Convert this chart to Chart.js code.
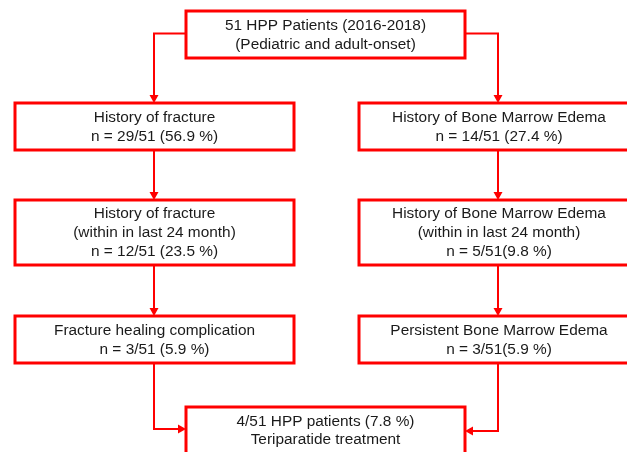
<!DOCTYPE html>
<html>
<head>
<meta charset="utf-8">
<script src="https://cdn.jsdelivr.net/npm/chart.js@4"></script>
<style>
  html, body { margin: 0; padding: 0; background: #fff; }
  #wrap { width: 627px; height: 452px; }
</style>
</head>
<body>
<div id="wrap"><canvas id="flow"></canvas></div>
<script>
// flowchart content
const total = 51;
const boxNames = ['top', 'frac', 'bme', 'frac24', 'bme24', 'fracComp', 'bmePers', 'teri'];
const boxCounts = [51, 29, 14, 12, 5, 3, 3, 4];
const boxLines = [
  ['51 HPP Patients (2016-2018)', '(Pediatric and adult-onset)'],
  ['History of fracture', 'n = 29/51 (56.9 %)'],
  ['History of Bone Marrow Edema', 'n = 14/51 (27.4 %)'],
  ['History of fracture', '(within in last 24 month)', 'n = 12/51 (23.5 %)'],
  ['History of Bone Marrow Edema', '(within in last 24 month)', 'n = 5/51(9.8 %)'],
  ['Fracture healing complication', 'n = 3/51 (5.9 %)'],
  ['Persistent Bone Marrow Edema', 'n = 3/51(5.9 %)'],
  ['4/51 HPP patients (7.8 %)', 'Teriparatide treatment']
];
// links: from -> to
const linkFrom = ['top', 'top', 'frac', 'bme', 'frac24', 'bme24', 'fracComp', 'bmePers'];
const linkTo   = ['frac', 'bme', 'frac24', 'bme24', 'fracComp', 'bmePers', 'teri', 'teri'];

// layout (scale units, y grows downward)
const layout = {
  top:      { x0: 186, x1: 465, y0: 11,  y1: 58 },
  frac:     { x0: 15,  x1: 294, y0: 103, y1: 150 },
  bme:      { x0: 359, x1: 639, y0: 103, y1: 150 },
  frac24:   { x0: 15,  x1: 294, y0: 200, y1: 265 },
  bme24:    { x0: 359, x1: 639, y0: 200, y1: 265 },
  fracComp: { x0: 15,  x1: 294, y0: 316, y1: 363 },
  bmePers:  { x0: 359, x1: 639, y0: 316, y1: 363 },
  teri:     { x0: 186, x1: 465, y0: 407, y1: 455 }
};
const colX = { left: 154, right: 498 };
const RED = '#ff0000';

function boxSide(name) {
  return layout[name].x0 < 300 ? 'left' : 'right';
}

const flowPlugin = {
  id: 'flow',
  afterDatasetsDraw(chart) {
    const ctx = chart.ctx;
    const xs = chart.scales.x, ys = chart.scales.y;
    const px = v => xs.getPixelForValue(v);
    const py = v => ys.getPixelForValue(v);

    function arrowHead(x, y, dir) {
      const L = 8, W = 4.5;
      ctx.beginPath();
      if (dir === 'down') { ctx.moveTo(x, y); ctx.lineTo(x - W, y - L); ctx.lineTo(x + W, y - L); }
      if (dir === 'right') { ctx.moveTo(x, y); ctx.lineTo(x - L, y - W); ctx.lineTo(x - L, y + W); }
      if (dir === 'left') { ctx.moveTo(x, y); ctx.lineTo(x + L, y - W); ctx.lineTo(x + L, y + W); }
      ctx.closePath();
      ctx.fill();
    }

    ctx.save();
    ctx.strokeStyle = RED;
    ctx.fillStyle = RED;
    ctx.lineWidth = 2;

    // connectors
    linkFrom.forEach((f, i) => {
      const a = layout[f], b = layout[linkTo[i]];
      ctx.beginPath();
      if (f === 'top') {
        const side = boxSide(linkTo[i]);
        const cx = colX[side];
        const ey = (a.y0 + a.y1) / 2 - 1;
        const sx = side === 'left' ? a.x0 : a.x1;
        ctx.moveTo(px(sx), py(ey));
        ctx.lineTo(px(cx), py(ey));
        ctx.lineTo(px(cx), py(b.y0) - 6);
        ctx.stroke();
        arrowHead(px(cx), py(b.y0), 'down');
      } else if (linkTo[i] === 'teri') {
        const side = boxSide(f);
        const cx = colX[side];
        const ey = side === 'left' ? 429 : 431;
        const ex = side === 'left' ? b.x0 : b.x1;
        ctx.moveTo(px(cx), py(a.y1));
        ctx.lineTo(px(cx), py(ey));
        ctx.lineTo(px(ex) + (side === 'left' ? -6 : 6), py(ey));
        ctx.stroke();
        arrowHead(px(ex), py(ey), side === 'left' ? 'right' : 'left');
      } else {
        const cx = colX[boxSide(f)];
        ctx.moveTo(px(cx), py(a.y1));
        ctx.lineTo(px(cx), py(b.y0) - 6);
        ctx.stroke();
        arrowHead(px(cx), py(b.y0), 'down');
      }
    });

    // boxes
    ctx.lineWidth = 3;
    boxNames.forEach((n, i) => {
      const b = layout[n];
      const x0 = px(b.x0), x1 = px(b.x1), y0 = py(b.y0), y1 = py(b.y1);
      ctx.fillStyle = '#fff';
      ctx.fillRect(x0, y0, x1 - x0, y1 - y0);
      ctx.strokeRect(x0, y0, x1 - x0, y1 - y0);

      const lines = boxLines[i];
      const lh = lines.length > 2 ? 19 : 18.5;
      const cx = (n === 'bme' || n === 'bme24' || n === 'bmePers') ? px(499) : (x0 + x1) / 2;
      const cy = n === 'teri' ? py(430.5) : (y0 + y1) / 2 + 0.5;
      ctx.fillStyle = '#1a1a1a';
      ctx.font = '15.4px "Liberation Sans", Arial, sans-serif';
      ctx.textAlign = 'center';
      ctx.textBaseline = 'middle';
      lines.forEach((t, k) => {
        ctx.fillText(t, cx, cy + (k - (lines.length - 1) / 2) * lh);
      });
    });
    ctx.restore();
  }
};

new Chart(document.getElementById('flow'), {
  type: 'scatter',
  data: {
    datasets: [{
      label: 'patients',
      data: boxNames.map((n, i) => ({
        x: (layout[n].x0 + layout[n].x1) / 2,
        y: (layout[n].y0 + layout[n].y1) / 2,
        n: boxCounts[i]
      })),
      pointRadius: 0
    }]
  },
  options: {
    responsive: true,
    maintainAspectRatio: false,
    animation: false,
    layout: { padding: 0 },
    plugins: { legend: { display: false }, tooltip: { enabled: false } },
    scales: {
      x: { type: 'linear', min: 0, max: 627, display: false },
      y: { type: 'linear', min: 0, max: 452, reverse: true, display: false }
    }
  },
  plugins: [flowPlugin]
});
</script>
</body>
</html>
